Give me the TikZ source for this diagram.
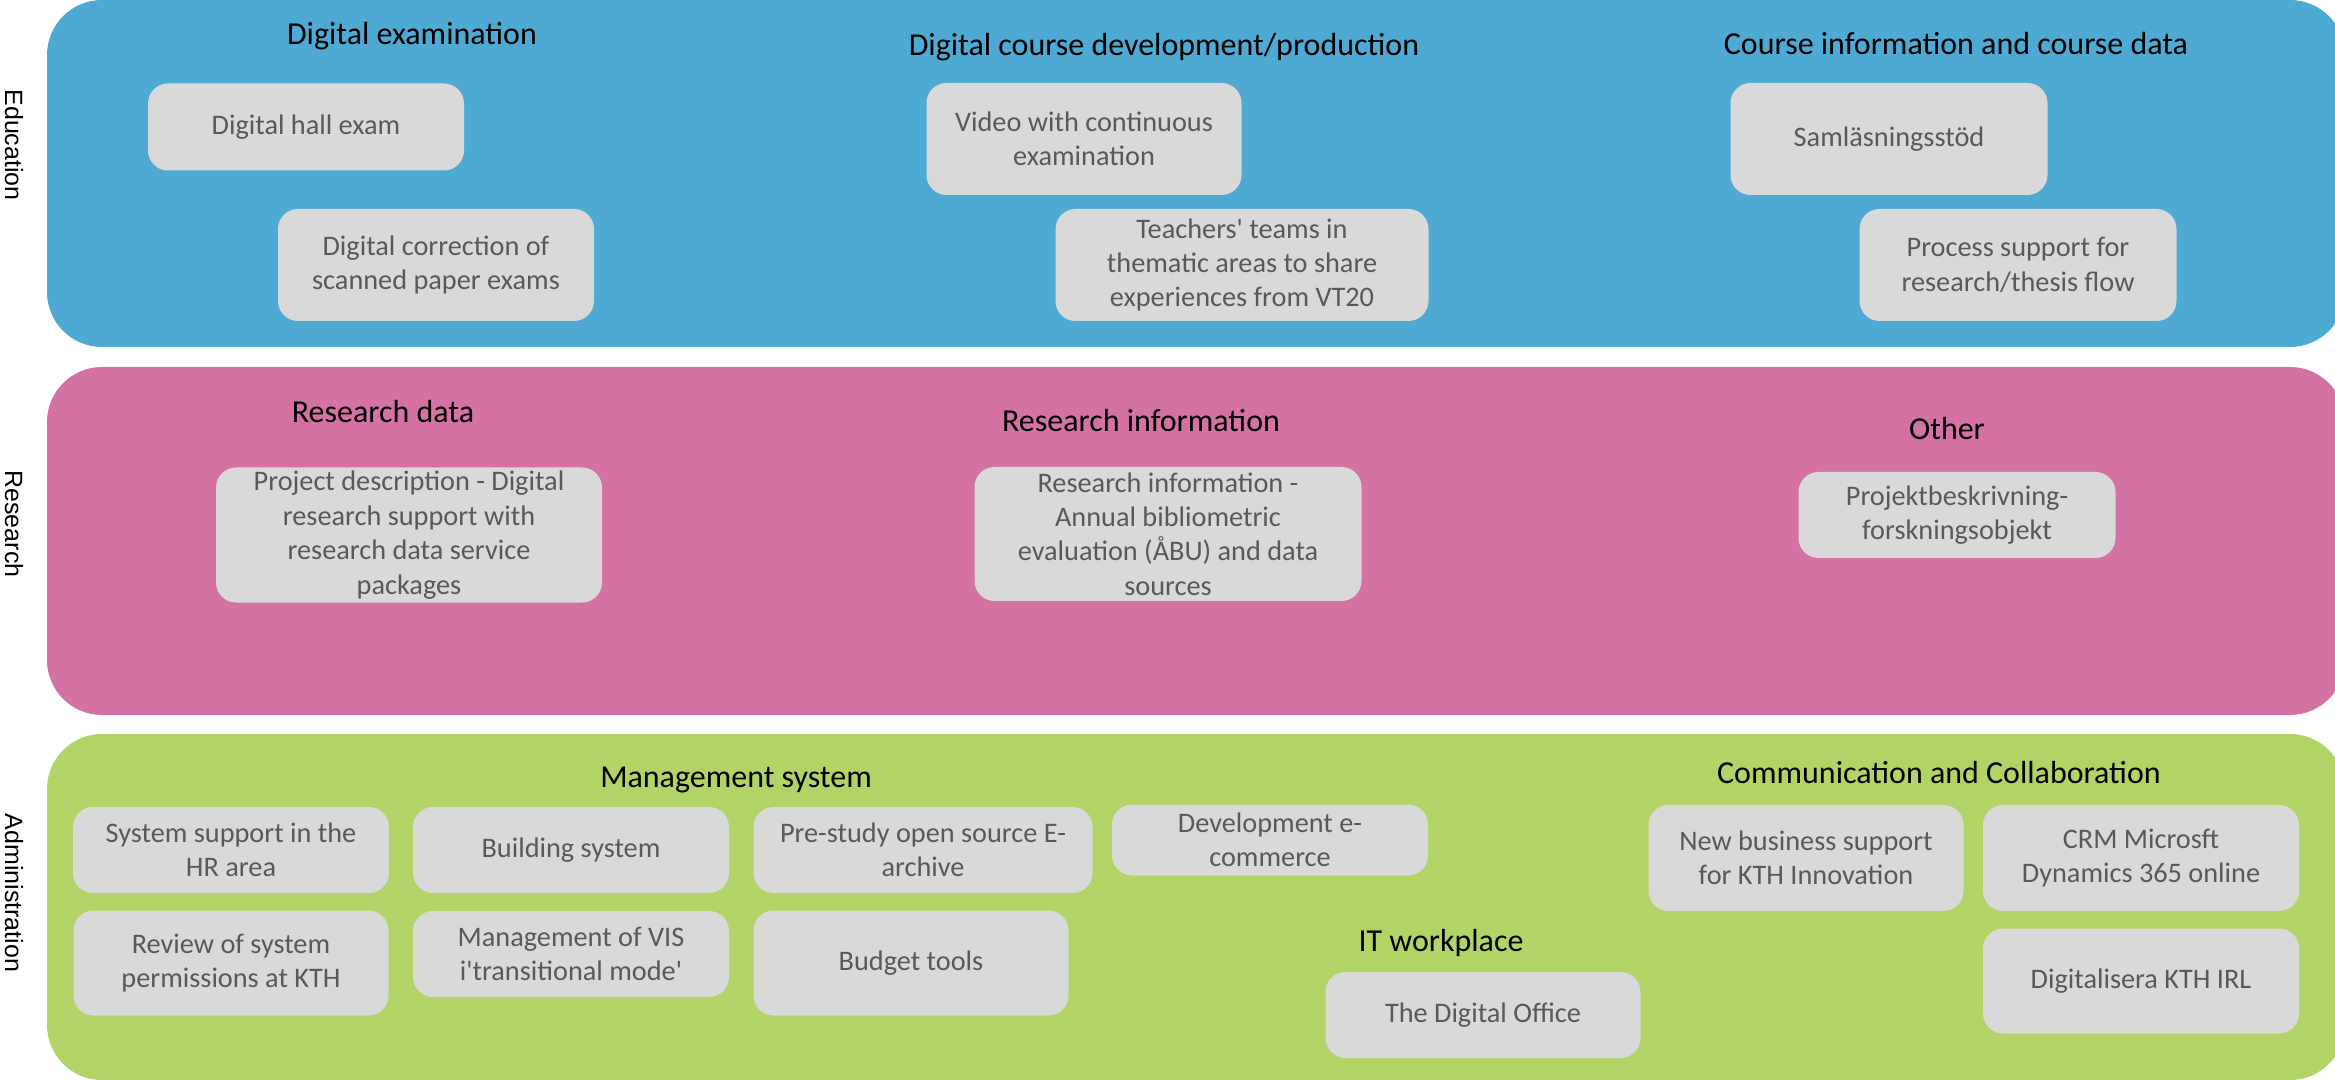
\documentclass[tikz,border=0pt]{standalone}
\usepackage{fontspec}
\setmainfont{Carlito}
\newfontfamily\sidefont{Liberation Sans}
\usepackage{tikz}

\definecolor{edublue}{RGB}{78,169,211}
\definecolor{respink}{RGB}{212,114,164}
\definecolor{admgreen}{RGB}{178,212,103}
\definecolor{boxgrey}{RGB}{217,217,217}
\definecolor{txtgrey}{RGB}{89,89,89}

\begin{document}
\begin{tikzpicture}[x=1cm,y=1cm,
    band/.style={rounded corners=0.55cm},
    item/.style={rounded corners=0.2cm, fill=boxgrey, text=txtgrey, align=center, inner sep=0pt,
        minimum width=3.16cm, minimum height=0.86cm, font=\fontsize{8.05}{9.8}\selectfont},
    head/.style={anchor=base, inner sep=0pt, font=\fontsize{9.1}{11}\selectfont},
    side/.style={rotate=-90, inner sep=0pt, font=\sidefont\fontsize{7.1}{8}\selectfont}]
\useasboundingbox (0,0) rectangle (23.35,-10.8);

% the three bands
\fill[band, edublue] (0.47,0) rectangle (23.45,-3.47);
\fill[band, respink] (0.47,-3.67) rectangle (23.45,-7.15);
\fill[band, admgreen] (0.47,-7.34) rectangle (23.45,-10.8);

\node[side] (edu) at (0.14,-1.45) {Education};
\node[side] (res) at (0.14,-5.24) {Research};
\node[side] (adm) at (0.14,-8.93) {Administration};

% Education
\node[head] (hexam) at (4.12,-0.45) {Digital examination};
\node[head] (hcourse) at (11.64,-0.56) {Digital course development/production};
\node[head] (hdata) at (19.56,-0.55) {Course information and course data};

\node[item, minimum height=0.87cm] (hall) at (3.06,-1.27) {Digital hall exam};
\node[item, minimum height=1.12cm] (corr) at (4.36,-2.65) {Digital correction of\\scanned paper exams};
\node[item, minimum width=3.15cm, minimum height=1.12cm] (video) at (10.84,-1.39) {Video with continuous\\examination};
\node[item, minimum width=3.73cm, minimum height=1.12cm] (teach) at (12.42,-2.65) {Teachers\textquotesingle{} teams in\\thematic areas to share\\experiences from VT20};
\node[item, minimum width=3.17cm, minimum height=1.12cm] (saml) at (18.89,-1.39) {Samläsningsstöd};
\node[item, minimum width=3.17cm, minimum height=1.12cm] (proc) at (20.18,-2.65) {Process support for\\research/thesis flow};

% Research
\node[head] (hrdata) at (3.83,-4.23) {Research data};
\node[head] (hrinfo) at (11.41,-4.32) {Research information};
\node[head] (hother) at (19.47,-4.40) {Other};

\node[item, minimum width=3.86cm, minimum height=1.35cm] (proj) at (4.09,-5.35) {Project description - Digital\\research support with\\research data service\\packages};
\node[item, minimum width=3.87cm, minimum height=1.34cm] (rinfo) at (11.68,-5.34) {Research information -\\Annual bibliometric\\evaluation (ÅBU) and data\\sources};
\node[item, minimum width=3.17cm] (pbesk) at (19.57,-5.15) {Projektbeskrivning-\\forskningsobjekt};

% Administration
\node[head] (hmgmt) at (7.36,-7.87) {Management system};
\node[head] (hcomm) at (19.39,-7.83) {Communication and Collaboration};
\node[head] (hitw) at (14.41,-9.51) {IT workplace};

\node[item] (hr) at (2.31,-8.50) {System support in the\\HR area};
\node[item] (build) at (5.71,-8.50) {Building system};
\node[item, minimum width=3.39cm] (prest) at (9.23,-8.50) {Pre-study open source E-\\archive};
\node[item, minimum height=0.71cm] (ecom) at (12.70,-8.40) {Development e-\\commerce};
\node[item, minimum width=3.15cm, minimum height=1.05cm] (review) at (2.31,-9.63) {Review of system\\permissions at KTH};
\node[item] (vis) at (5.71,-9.54) {Management of VIS\\i\textquotesingle{}transitional mode\textquotesingle};
\node[item, minimum width=3.15cm, minimum height=1.05cm] (budget) at (9.11,-9.63) {Budget tools};
\node[item, minimum width=3.15cm, minimum height=1.06cm] (newbiz) at (18.06,-8.58) {New business support\\for KTH Innovation};
\node[item, minimum height=1.06cm] (crm) at (21.41,-8.58) {CRM Microsft\\Dynamics 365 online};
\node[item, minimum height=1.05cm] (irl) at (21.41,-9.81) {Digitalisera KTH IRL};
\node[item, minimum width=3.15cm] (office) at (14.83,-10.15) {The Digital Office};
\end{tikzpicture}
\end{document}
